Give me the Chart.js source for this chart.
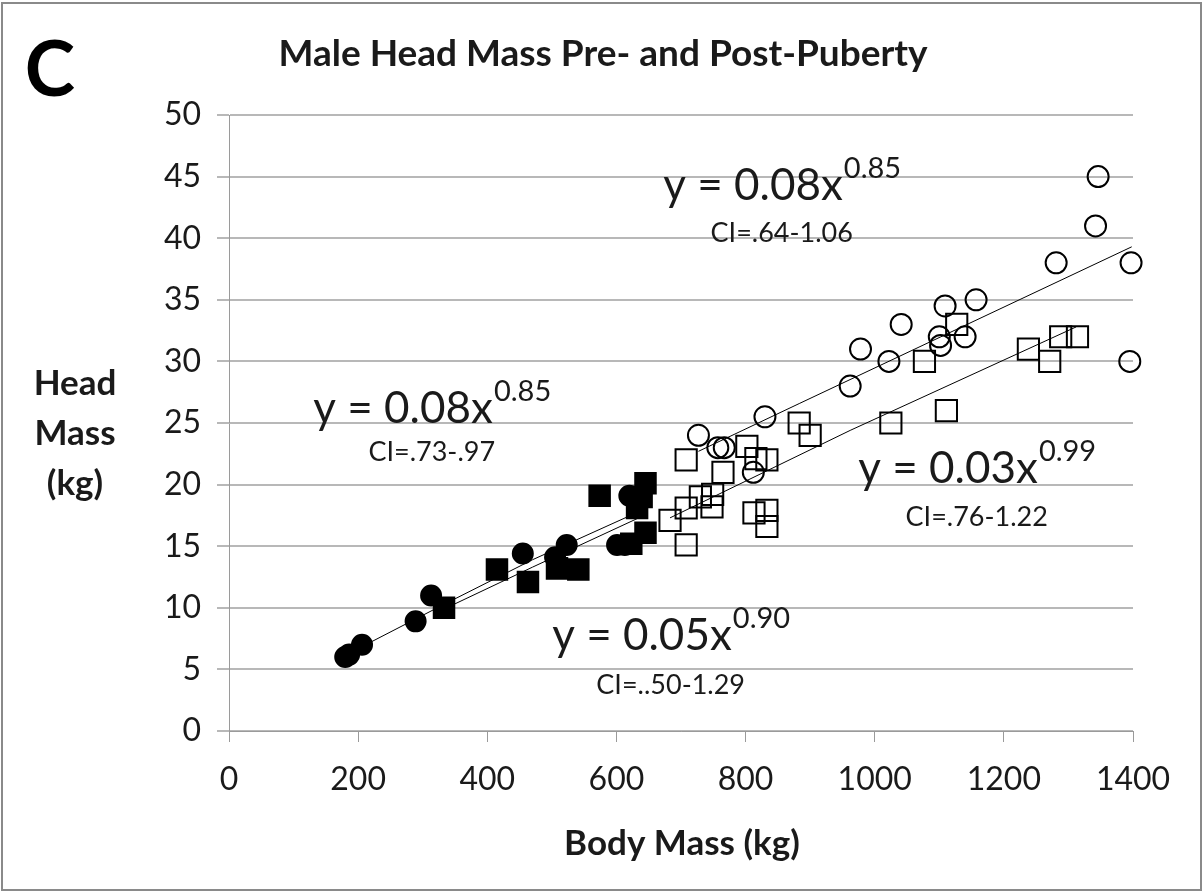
<!DOCTYPE html>
<html>
<head>
<meta charset="utf-8">
<title>Male Head Mass Pre- and Post-Puberty</title>
<script src="https://cdn.jsdelivr.net/npm/chart.js@4.4.1/dist/chart.umd.min.js"></script>
<style>
  html, body { margin: 0; padding: 0; background: #fff; }
  canvas { display: block; }
</style>
</head>
<body>
<canvas id="chart" width="1203" height="892"></canvas>
<script>
// Body mass (kg) and head mass (kg)

// pre-puberty, filled circles
const preCircleBody = [180, 186, 206, 289, 313, 455, 505, 523, 601, 613, 620];
const preCircleHead = [6.0, 6.2, 7.0, 8.9, 11.0, 14.4, 14.1, 15.1, 15.1, 15.1, 19.1];

// pre-puberty, filled squares
const preSquareBody = [333, 415, 463, 508, 541, 574, 623, 632, 639, 645, 645];
const preSquareHead = [10.0, 13.1, 12.1, 13.2, 13.1, 19.1, 15.2, 18.1, 19.0, 20.1, 16.1];

// post-puberty, open circles
const postCircleBody = [727, 757, 767, 812, 830, 962, 978, 1022, 1041, 1100, 1102, 1109, 1140, 1157, 1281, 1342, 1346, 1397, 1395];
const postCircleHead = [24.0, 23.0, 23.0, 21.0, 25.5, 28.0, 31.0, 30.0, 33.0, 32.0, 31.3, 34.5, 32.0, 35.0, 38.0, 41.0, 45.0, 38.0, 30.0];

// post-puberty, open squares
const postSquareBody = [683, 708, 708, 708, 730, 749, 748, 765, 802, 816, 833, 813, 833, 833, 883, 900, 1025, 1077, 1111, 1127, 1238, 1271, 1288, 1314];
const postSquareHead = [17.1, 15.1, 18.1, 22.0, 19.0, 19.2, 18.2, 21.0, 23.1, 22.1, 22.0, 17.7, 17.9, 16.6, 25.0, 24.0, 25.0, 30.0, 26.0, 33.0, 31.0, 30.0, 32.0, 32.0];

// fitted trend lines as drawn on the figure
const preCircleFitBody = [182, 330, 470, 622];
const preCircleFitHead = [6.2, 10.2, 13.9, 17.5];
const preSquareFitBody = [333, 470, 647];
const preSquareFitHead = [9.9, 13.3, 17.6];
const postCircleFitBody = [727, 884, 1398];
const postCircleFitHead = [22.7, 26.6, 39.3];
const postSquareFitBody = [683, 962, 1312];
const postSquareFitHead = [17.3, 24.4, 32.8];

// equation labels: text, exponent, CI text, anchor (body kg, head kg) of the equation and of the CI line
const eqBase = ['y = 0.08x', 'y = 0.08x', 'y = 0.03x', 'y = 0.05x'];
const eqExp = ['0.85', '0.85', '0.99', '0.90'];
const eqCI = ['CI=.64-1.06', 'CI=.73-.97', 'CI=.76-1.22', 'CI=..50-1.29'];
const eqAtBody = [856, 314, 1158, 684];
const eqAtHead = [43.1, 25.0, 20.1, 6.6];
const ciAtHead = [39.7, 21.9, 16.6, 3.0];

const xTicks = [0, 200, 400, 600, 800, 1000, 1200, 1400];

const FONT = 'Lato, "Open Sans", sans-serif';
const INK = '#1a1a1a';

function pts(xs, ys) {
    return xs.map((x, i) => ({ x: x, y: ys[i] }));
}

function marks(xs, ys, style, filled, r) {
    return {
        data: pts(xs, ys),
        showLine: false,
        clip: false,
        pointStyle: style,
        pointRadius: r,
        pointHoverRadius: r,
        pointBorderWidth: 2,
        pointBorderColor: '#000',
        pointBackgroundColor: filled ? '#000' : 'rgba(0,0,0,0)'
    };
}

function fitLine(xs, ys) {
    return {
        data: pts(xs, ys),
        showLine: true,
        clip: false,
        borderColor: '#000',
        borderWidth: 1,
        pointRadius: 0,
        pointHoverRadius: 0,
        fill: false
    };
}

const textPlugin = {
    id: 'texts',
    afterDraw(chart) {
        const ctx = chart.ctx;
        const xs = chart.scales.x, ys = chart.scales.y;
        ctx.save();

        // frame
        ctx.strokeStyle = '#8a8a8a';
        ctx.lineWidth = 2;
        ctx.strokeRect(2, 3, chart.width - 4, chart.height - 5);

        ctx.fillStyle = '#000';
        ctx.textAlign = 'center';
        ctx.textBaseline = 'alphabetic';
        ctx.font = 'bold 76px ' + FONT;
        ctx.fillText('C', 50, 96);

        ctx.fillStyle = INK;
        ctx.font = 'bold 37px ' + FONT;
        ctx.fillText('Male Head Mass Pre- and Post-Puberty', 603, 66);

        ctx.font = 'bold 35px ' + FONT;
        ctx.fillText('Body Mass (kg)', 682, 855);
        ctx.fillText('Head', 75, 395);
        ctx.fillText('Mass', 75, 445);
        ctx.fillText('(kg)', 75, 495);

        // equations
        for (let i = 0; i < eqBase.length; i++) {
            const cx = xs.getPixelForValue(eqAtBody[i]);
            const by = ys.getPixelForValue(eqAtHead[i]);
            ctx.textAlign = 'left';
            ctx.font = '44px ' + FONT;
            const w1 = ctx.measureText(eqBase[i]).width;
            ctx.font = '29px ' + FONT;
            const w2 = ctx.measureText(eqExp[i]).width;
            const x0 = cx - (w1 + w2) / 2;
            ctx.font = '44px ' + FONT;
            ctx.fillText(eqBase[i], x0, by);
            ctx.font = '29px ' + FONT;
            ctx.fillText(eqExp[i], x0 + w1 + 1, by - 22);

            ctx.textAlign = 'center';
            ctx.font = '27px ' + FONT;
            ctx.fillText(eqCI[i], cx, ys.getPixelForValue(ciAtHead[i]));
        }
        ctx.restore();
    }
};

const ctx = document.getElementById('chart').getContext('2d');
new Chart(ctx, {
    type: 'scatter',
    data: {
        datasets: [
            marks(preCircleBody, preCircleHead, 'circle', true, 10),
            marks(preSquareBody, preSquareHead, 'rect', true, 14.5),
            marks(postCircleBody, postCircleHead, 'circle', false, 10.5),
            marks(postSquareBody, postSquareHead, 'rect', false, 15),
            fitLine(preCircleFitBody, preCircleFitHead),
            fitLine(preSquareFitBody, preSquareFitHead),
            fitLine(postCircleFitBody, postCircleFitHead),
            fitLine(postSquareFitBody, postSquareFitHead)
        ]
    },
    options: {
        responsive: false,
        animation: false,
        devicePixelRatio: 1,
        layout: { padding: { top: 115, right: 70, left: 0, bottom: 0 } },
        plugins: {
            legend: { display: false },
            tooltip: { enabled: false },
            title: { display: false }
        },
        scales: {
            x: {
                type: 'linear',
                min: 0,
                max: 1400,
                afterBuildTicks: (scale) => { scale.ticks = xTicks.map(v => ({ value: v })); },
                afterFit: (scale) => { scale.height = 161; },
                ticks: {
                    font: { family: FONT, size: 32 },
                    color: INK,
                    padding: 18,
                    maxRotation: 0,
                    callback: (v) => String(v)
                },
                grid: { drawOnChartArea: false, drawTicks: true, tickLength: 11, color: '#9a9a9a', lineWidth: 1 },
                border: { color: '#9a9a9a', width: 1 }
            },
            y: {
                min: 0,
                max: 50,
                afterFit: (scale) => { scale.width = 229; },
                ticks: { stepSize: 5, font: { family: FONT, size: 32 }, color: INK, padding: 16 },
                grid: { color: '#b8b8b8', lineWidth: 2, tickLength: 12 },
                border: { color: '#9a9a9a', width: 1 }
            }
        }
    },
    plugins: [textPlugin]
});
</script>
</body>
</html>
